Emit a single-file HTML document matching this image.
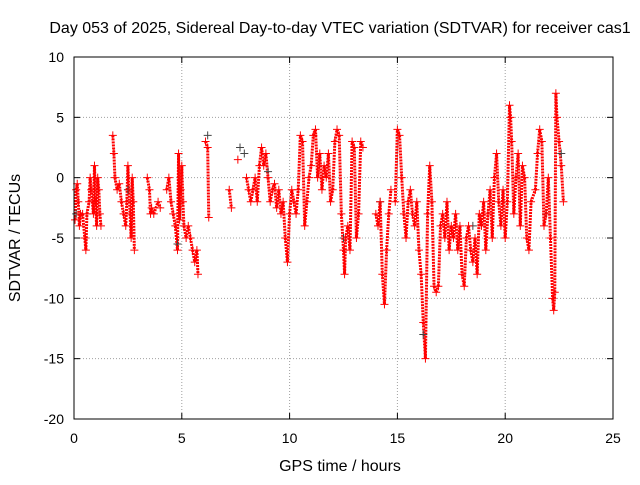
<!DOCTYPE html>
<html><head><meta charset="utf-8"><style>
body{margin:0;background:#fff;}
svg text{font-family:"Liberation Sans",sans-serif;font-size:14px;fill:#000;}
svg text.big{font-size:16px;}
</style></head><body>
<svg id="chart" width="640" height="480">
<text class="big" x="340" y="33" text-anchor="middle">Day 053 of 2025, Sidereal Day-to-day VTEC variation (SDTVAR) for receiver cas1</text>
<text class="big" x="340" y="471" text-anchor="middle">GPS time / hours</text>
<text class="big" transform="translate(20,238) rotate(-90)" text-anchor="middle">SDTVAR / TECUs</text>
<g id="grid"></g><g id="axes"></g><g id="marks"></g>
<rect x="74" y="57" width="539" height="362" fill="none" stroke="#000"/>
</svg>
<script>
const xTicks=[0,5,10,15,20,25];
const yTicks=[10,5,0,-5,-10,-15,-20];
const redT=[0.05,0.1,0.15,0.2,0.25,0.3,0.4,0.5,0.55,0.6,0.7,0.75,0.8,0.9,0.95,1.0,1.05,1.1,1.15,1.2,1.25,
1.8,1.85,1.9,2.0,2.1,2.2,2.3,2.4,2.45,2.5,2.55,2.6,2.65,2.7,2.75,2.8,
3.4,3.5,3.55,3.6,3.7,3.9,4.0,4.3,4.4,4.5,4.6,4.7,4.8,4.85,4.9,4.95,5.0,5.05,5.1,5.2,5.3,5.4,5.5,5.6,5.7,5.75,
6.1,6.2,6.25,7.2,7.3,7.6,
8.0,8.1,8.2,8.3,8.4,8.5,8.6,8.7,8.8,8.9,9.0,9.1,9.2,9.3,9.4,9.5,9.6,9.7,9.8,9.9,10.0,10.1,10.2,10.3,10.4,10.5,10.6,10.7,10.8,10.9,11.0,11.1,11.2,11.3,11.4,11.5,11.6,11.7,11.8,11.9,12.0,12.1,12.2,12.3,12.4,12.5,12.55,12.6,12.7,12.8,12.9,13.0,13.1,13.2,13.3,13.4,
14.0,14.1,14.2,14.3,14.4,14.5,14.6,14.7,14.9,15.0,15.1,15.2,15.3,15.4,15.5,15.6,15.7,15.8,15.9,16.0,16.1,16.2,16.3,16.4,16.5,16.6,16.7,16.8,16.9,17.0,17.1,17.2,17.3,17.4,17.5,17.6,17.7,17.8,17.9,18.0,18.1,18.2,18.3,18.4,18.5,18.6,18.7,18.8,18.9,19.0,19.1,19.2,19.3,19.4,19.5,19.6,19.7,19.8,19.9,20.0,20.1,20.2,20.25,20.3,20.4,20.5,20.6,20.7,20.8,20.9,21.0,21.1,21.2,21.4,21.5,21.6,21.7,21.8,21.9,22.0,22.1,22.2,22.25,22.3,22.35,22.4,22.5,22.6,22.7];
const redV=[-3.5,-1,-0.5,-2,-4,-3,-3,-5,-6,-3,-2,0,-1,-3,1,-2,-4,0,-1,-3,-4,
3.5,2,0,-1,-0.5,-2,-3,-4,-2,1,-1,-3,-5,0,-2,-6,
0,-1,-3,-2.5,-3,-2,-2.5,-1,0,-2,-3,-4,-6,2,-3.5,-1,1,-2,-4,-5,-4,-5,-6,-7,-6,-8,
3,2.5,-3.3,-1,-2.5,1.5,
0,-1,-2,-1,0,-2,1,2.5,1,2,0,-2,-1,-0.5,-2.5,-1,-3,-2,-5,-7,-3,-1,-2,-3,-1,3.5,3,-4,-2,0,1,3.5,4,0,2,-1,1,0,2,-2,-1,3,4,3.5,-3,-6,-8,-5,-4,-6,3,2.5,-5,-3,3,2.5,
-3,-4,-2,-8,-10.5,-6,-3,-1,-2,4,3.5,0,-3,-5,-2,-1,-3,-4,-2,-6,-8,-12,-15,-3,1,-2,-9,-9.5,-9,-4,-3,-5,-2,-6,-4,-5,-3,-6,-4,-8,-9,-5,-4,-6,-7,-5,-8,-3,-4,-2,-6,-3,-1,-5,0,2,-2,-4,-1,-5,-2,6,5,3,-3,0,2,-4,1,0,-5,-6,-2,-1,2,4,3,-4,-3,0,-5,-10,-11,-9.5,7,5,3,1,-2];
const greyT=[0.1,2.5,4.8,6.2,7.7,7.9,9.0,12.5,14.2,16.2,18.5,21.9,22.6];
const greyV=[-3,-1,-5.5,3.5,2.5,2,0.5,-5,-2,-13,-4,-3,2];
const X0=74,X1=613,Y0=419,Y1=57;
const sx=v=>X0+(v-0)/(25-0)*(X1-X0);
const sy=v=>Y0-(v+20)/30*(Y0-Y1);
const NS='http://www.w3.org/2000/svg';
const grid=document.getElementById('grid'),axes=document.getElementById('axes'),marks=document.getElementById('marks');
function mk(tag,attrs,parent){const e=document.createElementNS(NS,tag);for(const k in attrs)e.setAttribute(k,attrs[k]);parent.appendChild(e);return e;}
xTicks.forEach(t=>{const x=sx(t);
 if(t>0&&t<25){const g=mk('line',{x1:x,x2:x,y1:Y0,y2:Y1,stroke:'#a0a0a0','stroke-dasharray':'1,2'},grid);
 
 }
 mk('line',{x1:x,x2:x,y1:Y0,y2:Y0-6,stroke:'#000'},axes);
 mk('line',{x1:x,x2:x,y1:Y1,y2:Y1+6,stroke:'#000'},axes);
 const l=mk('text',{x:x,y:Y0+24,'text-anchor':'middle'},axes);l.textContent=t;
 
 });
yTicks.forEach(t=>{const y=sy(t);
 if(t>-20&&t<10){const g=mk('line',{x1:X0,x2:X1,y1:y,y2:y,stroke:'#a0a0a0','stroke-dasharray':'1,2'},grid);
 
 }
 mk('line',{x1:X0,x2:X0+6,y1:y,y2:y,stroke:'#000'},axes);
 mk('line',{x1:X1,x2:X1-6,y1:y,y2:y,stroke:'#000'},axes);
 const l=mk('text',{x:X0-10,y:y+5,'text-anchor':'end'},axes);l.textContent=t;
 
 });
function plus(t,v,col,name){const x=sx(t),y=sy(v);
 const p=mk('path',{d:`M${x-4},${y}h8M${x},${y-4}v8`,stroke:col,'stroke-width':1},marks);
 
 }
for(let i=1;i<redT.length;i++){if(redT[i]-redT[i-1]<=0.2){
 const s=mk('line',{x1:sx(redT[i-1]),y1:sy(redV[i-1]),x2:sx(redT[i]),y2:sy(redV[i]),stroke:'#f00','stroke-width':3,'stroke-dasharray':'2,1'},marks);
 
 }}
greyT.forEach((t,i)=>plus(t,greyV[i],'#444','grey-point'));
redT.forEach((t,i)=>plus(t,redV[i],'#f00','red-point'));
</script>
</body></html>
